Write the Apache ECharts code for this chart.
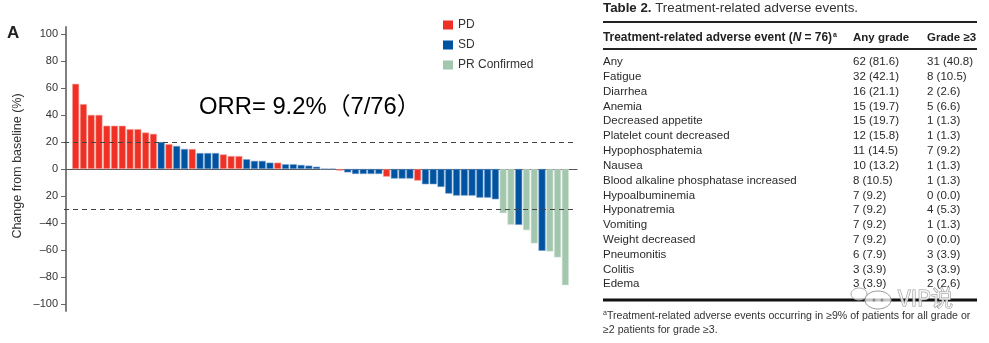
<!DOCTYPE html>
<html><head><meta charset="utf-8">
<script src="https://cdn.jsdelivr.net/npm/echarts@6/dist/echarts.min.js"></script>
<style>html,body{margin:0;padding:0;background:#fff}#c{width:989px;height:343px}</style>
</head><body><div id="c"></div>
<script>
// ---- Waterfall data (best % change from baseline, per patient) ----
const changeFromBaseline = [63, 48, 40, 40, 32, 32, 32, 29.5, 29.5, 27, 26, 20, 18.4, 17, 14.8, 14.8,
  11.8, 11.8, 11.8, 10.8, 9.6, 9.6, 7.2, 6, 6, 4.7, 4.7, 3.5, 3.5, 3, 2.5, 1.7, 0, 0,
  -1.2, -2.5, -3.7, -3.7, -3.7, -3.7, -5.7, -7.1, -7.1, -7.1, -8.6, -11.3, -11.3, -13.3,
  -18.2, -19.7, -19.7, -19.7, -21.2, -21.2, -22.4, -32.7, -41.3, -41.3, -45.3, -55, -60.5,
  -61, -65.4, -86];
const responseStatus = ['PD','PD','PD','PD','PD','PD','PD','PD','PD','PD','PD','SD','PD','SD','SD','PD',
  'SD','SD','SD','PD','PD','PD','SD','SD','SD','SD','PD','SD','SD','SD','SD','SD','SD','SD',
  'PD','SD','SD','SD','SD','SD','PD','SD','SD','SD','PD','SD','SD','SD',
  'SD','SD','SD','SD','SD','SD','SD','PR Confirmed','PR Confirmed','SD','PR Confirmed','PR Confirmed','SD',
  'PR Confirmed','PR Confirmed','PR Confirmed'];
const legendNames = ['PD', 'SD', 'PR Confirmed'];
const legendColors = ['#EE3124', '#0053A0', '#A3C6AE'];
const legendBorders = ['#F7A39C', '#6F9ACB', '#D3E5D8'];
const yTickValues = [100, 80, 60, 40, 20, 0, -20, -40, -60, -80, -100];
const yTickLabels = ['100', '80', '60', '40', '20', '0', '20', '\u201340', '\u201360', '\u201380', '\u2013100'];
const thresholdLines = [20, -30];
const orrText = 'ORR= 9.2%\uFF087/76\uFF09';

// ---- Table 2 data ----
const tableTitleBold = 'Table 2.';
const tableTitleRest = ' Treatment-related adverse events.';
const tableHeaders = ['Any grade', 'Grade \u22653'];
const aeNames = ['Any', 'Fatigue', 'Diarrhea', 'Anemia', 'Decreased appetite', 'Platelet count decreased',
  'Hypophosphatemia', 'Nausea', 'Blood alkaline phosphatase increased', 'Hypoalbuminemia', 'Hyponatremia',
  'Vomiting', 'Weight decreased', 'Pneumonitis', 'Colitis', 'Edema'];
const anyGrade = ['62 (81.6)', '32 (42.1)', '16 (21.1)', '15 (19.7)', '15 (19.7)', '12 (15.8)', '11 (14.5)',
  '10 (13.2)', '8 (10.5)', '7 (9.2)', '7 (9.2)', '7 (9.2)', '7 (9.2)', '6 (7.9)', '3 (3.9)', '3 (3.9)'];
const grade3 = ['31 (40.8)', '8 (10.5)', '2 (2.6)', '5 (6.6)', '1 (1.3)', '1 (1.3)', '7 (9.2)', '1 (1.3)',
  '1 (1.3)', '0 (0.0)', '4 (5.3)', '1 (1.3)', '0 (0.0)', '3 (3.9)', '3 (3.9)', '2 (2.6)'];
const footnoteLines = ['Treatment-related adverse events occurring in \u22659% of patients for all grade or',
  '\u22652 patients for grade \u22653.'];
const watermarkText = 'VIP\u8BF4';

const FONT = '"Liberation Sans", Arial, "Noto Sans CJK SC", sans-serif';

const cats = [''].concat(changeFromBaseline.map((_, i) => 'P' + (i + 1))).concat(['']);
const series = legendNames.map((name, k) => {
  const data = ['-'].concat(changeFromBaseline.map((v, i) => responseStatus[i] === name ? v : '-')).concat(['-']);
  const s = {
    name, type: 'bar', data, barGap: '-100%', barCategoryGap: '10%',
    itemStyle: { color: legendColors[k], borderColor: legendBorders[k], borderWidth: 0.6 },
    emphasis: { disabled: true }
  };
  if (k === 0) {
    s.markLine = {
      silent: true, symbol: 'none', label: { show: false },
      lineStyle: { type: [5, 4], color: '#444', width: 1 },
      data: thresholdLines.map(v => ({ yAxis: v }))
    };
  }
  return s;
});

// ---- graphic elements (panel letter, axis name, ORR, table) ----
const g = [];
g.push({ type: 'text', x: 7, y: 33, style: { text: 'A', font: 'bold 17px ' + FONT, fill: '#222', align: 'left', verticalAlign: 'middle' } });
g.push({ type: 'text', x: 18, y: 166, rotation: Math.PI / 2, style: { text: 'Change from baseline (%)', font: '12.5px ' + FONT, fill: '#333', align: 'center', verticalAlign: 'middle' } });
g.push({ type: 'text', x: 199, y: 107, style: { text: orrText, font: '23.8px ' + FONT, fill: '#000', align: 'left', verticalAlign: 'middle' } });

const TX = 603, C1 = 853, C2 = 927, TR = 977;
g.push({ type: 'text', x: TX, y: 8, style: {
  text: '{b|' + tableTitleBold + '}{n|' + tableTitleRest + '}', align: 'left', verticalAlign: 'middle',
  rich: { b: { font: 'bold 13.3px ' + FONT, fill: '#222' }, n: { font: '13.3px ' + FONT, fill: '#333' } } } });
g.push({ type: 'line', shape: { x1: TX, y1: 22, x2: TR, y2: 22 }, style: { stroke: '#222', lineWidth: 2 } });
g.push({ type: 'text', x: TX, y: 38, style: {
  text: '{b|Treatment-related adverse event (}{i|N}{b| = 76)}{s|a}', align: 'left', verticalAlign: 'middle',
  rich: { b: { font: 'bold 11.9px ' + FONT, fill: '#222' }, i: { font: 'italic bold 11.9px ' + FONT, fill: '#222' },
          s: { font: 'bold 7px ' + FONT, fill: '#222', verticalAlign: 'top', padding: [0, 0, 6, 1] } } } });
g.push({ type: 'text', x: C1, y: 38, style: { text: tableHeaders[0], font: 'bold 11.5px ' + FONT, fill: '#222', align: 'left', verticalAlign: 'middle' } });
g.push({ type: 'text', x: C2, y: 38, style: { text: tableHeaders[1], font: 'bold 11.5px ' + FONT, fill: '#222', align: 'left', verticalAlign: 'middle' } });
g.push({ type: 'line', shape: { x1: TX, y1: 49, x2: TR, y2: 49 }, style: { stroke: '#222', lineWidth: 2 } });
aeNames.forEach((n, i) => {
  const y = 62 + i * 14.82;
  g.push({ type: 'text', x: TX, y, style: { text: n, font: '11.5px ' + FONT, fill: '#2a2a2a', align: 'left', verticalAlign: 'middle' } });
  g.push({ type: 'text', x: C1, y, style: { text: anyGrade[i], font: '11.5px ' + FONT, fill: '#2a2a2a', align: 'left', verticalAlign: 'middle' } });
  g.push({ type: 'text', x: C2, y, style: { text: grade3[i], font: '11.5px ' + FONT, fill: '#2a2a2a', align: 'left', verticalAlign: 'middle' } });
});
g.push({ type: 'line', shape: { x1: TX, y1: 300, x2: TR, y2: 300 }, style: { stroke: '#111', lineWidth: 3 } });
g.push({ type: 'text', x: TX, y: 316, style: {
  text: '{s|a}{n|' + footnoteLines[0] + '}', align: 'left', verticalAlign: 'middle',
  rich: { s: { font: '7px ' + FONT, fill: '#333', verticalAlign: 'top', padding: [0, 0, 5, 0] }, n: { font: '10.6px ' + FONT, fill: '#333' } } } });
g.push({ type: 'text', x: TX, y: 330, style: { text: footnoteLines[1], font: '10.6px ' + FONT, fill: '#333', align: 'left', verticalAlign: 'middle' } });
// watermark (chat-bubble icon + text)
g.push({ type: 'ellipse', shape: { cx: 859, cy: 294, rx: 8, ry: 6 }, style: { fill: 'rgba(255,255,255,0.6)', stroke: '#aaa', lineWidth: 1 } });
g.push({ type: 'ellipse', shape: { cx: 878, cy: 300, rx: 13, ry: 9 }, style: { fill: 'rgba(255,255,255,0.75)', stroke: '#999', lineWidth: 1 } });
g.push({ type: 'circle', shape: { cx: 874, cy: 300, r: 1.5 }, style: { fill: '#888' } });
g.push({ type: 'circle', shape: { cx: 882, cy: 300, r: 1.5 }, style: { fill: '#888' } });
g.push({ type: 'text', x: 898, y: 298, style: { text: watermarkText, font: '22px "Noto Sans CJK SC", sans-serif', fill: 'rgba(255,255,255,0.7)', stroke: '#999', lineWidth: 1, align: 'left', verticalAlign: 'middle' } });

const chart = echarts.init(document.getElementById('c'), null, { renderer: 'canvas' });
chart.setOption({
  animation: false,
  backgroundColor: '#fff',
  textStyle: { fontFamily: FONT },
  grid: { left: 64, width: 513, top: 27, bottom: 32, containLabel: false },
  legend: {
    data: legendNames, orient: 'vertical', left: 443, top: 19, padding: 0, itemWidth: 10, itemHeight: 9, itemGap: 8,
    icon: 'rect', itemStyle: { borderWidth: 0 },
    textStyle: { fontSize: 12, color: '#333', fontFamily: FONT }
  },
  xAxis: {
    type: 'category', data: cats, boundaryGap: true,
    axisLine: { onZero: true, lineStyle: { color: '#555', width: 1 } },
    axisTick: { show: false }, axisLabel: { show: false }, splitLine: { show: false }
  },
  yAxis: {
    type: 'value', min: -105, max: 105, offset: -2,
    axisLine: { show: true, lineStyle: { color: '#7f7f7f', width: 2 } },
    axisTick: { show: true, length: 5, customValues: yTickValues, lineStyle: { color: '#666', width: 1 } },
    axisLabel: {
      customValues: yTickValues, margin: 8, fontSize: 11, color: '#333', fontFamily: FONT,
      formatter: v => { const i = yTickValues.indexOf(v); return i >= 0 ? yTickLabels[i] : ''; }
    },
    splitLine: { show: false }
  },
  series,
  graphic: { elements: g }
});
</script></body></html>
